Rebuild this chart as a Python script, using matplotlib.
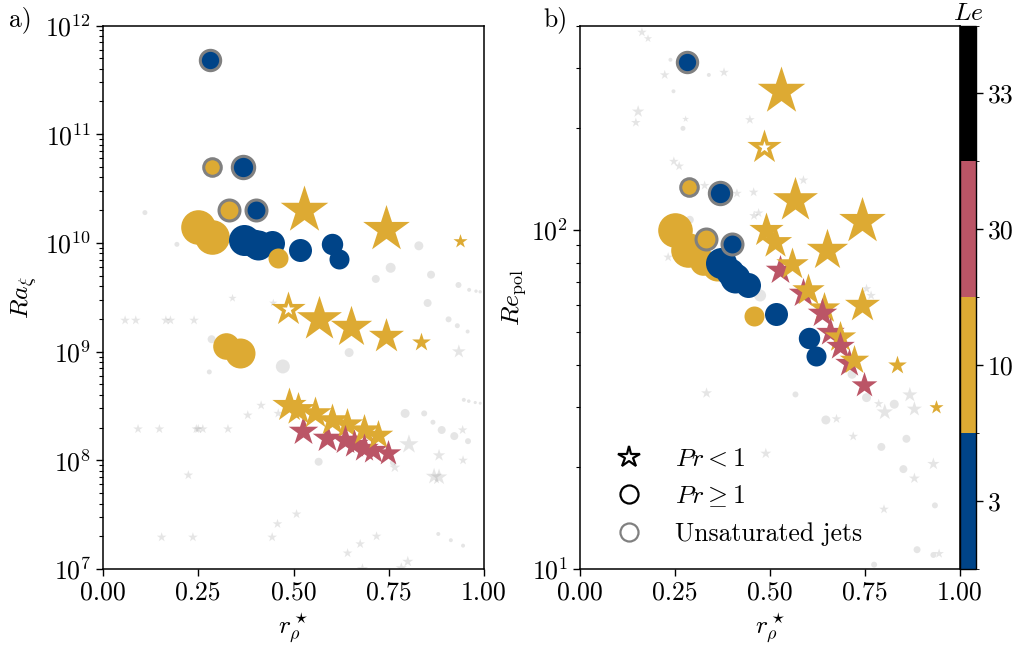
import numpy as np
import matplotlib
matplotlib.use('Agg')
import matplotlib.pyplot as plt
from matplotlib.colors import ListedColormap, BoundaryNorm
from matplotlib.cm import ScalarMappable
from matplotlib.lines import Line2D
from matplotlib.ticker import NullFormatter, LogLocator

plt.rcParams['font.family'] = ['cmr10', 'DejaVu Serif']
plt.rcParams['mathtext.fontset'] = 'cm'
plt.rcParams['axes.formatter.use_mathtext'] = True
plt.rcParams['font.size'] = 18.5
plt.rcParams['axes.unicode_minus'] = False

DPI = 100

# ---------------- data ----------------
le_levels = [3, 10, 30, 33]
le_colors = ['#004488', '#DDAA33', '#BB5566', '#000000']

# Pr >= 1 simulations (circles), in drawing order
circ_r = [0.250, 0.285, 0.324, 0.360, 0.371, 0.395, 0.408, 0.443, 0.459, 0.517, 0.602, 0.620,
          0.281, 0.287, 0.368, 0.331, 0.401]
circ_ra = [1.40e10, 1.14e10, 1.12e9, 9.8e8, 1.07e10, 1.0e10, 9.6e9, 9.9e9, 7.2e9, 8.6e9, 9.7e9, 7.1e9,
           4.8e11, 5.0e10, 5.0e10, 2.0e10, 2.0e10]
circ_re = [99.5, 87, 80.6, 78, 80, 75, 72, 68.7, 55.8, 56.4, 47.9, 42.4,
           313, 134, 128, 94, 90.6]
circ_le = [10, 10, 10, 10, 3, 3, 3, 3, 10, 3, 3, 3,
           3, 10, 3, 10, 3]
circ_unsat = [False] * 12 + [True] * 5
circ_size = [17.3, 17.3, 13.3, 15, 15.5, 14, 15, 12.5, 10, 11.5, 10.7, 10,
             11.7, 10.3, 12.7, 12, 12]

# Pr < 1 simulations (stars), in drawing order
star_r = [0.528, 0.743, 0.936, 0.485, 0.566, 0.651, 0.743, 0.834,
          0.526, 0.588, 0.489, 0.512, 0.557, 0.600, 0.641, 0.636, 0.658, 0.685, 0.684, 0.709, 0.722, 0.747]
star_ra = [2.0e10, 1.35e10, 1.04e10, 2.45e9, 2.0e9, 1.67e9, 1.39e9, 1.22e9,
           1.85e8, 1.6e8, 3.2e8, 2.95e8, 2.7e8, 2.35e8, 2.15e8, 1.55e8, 1.4e8, 1.9e8, 1.3e8, 1.25e8, 1.7e8, 1.17e8]
star_re = [257, 106, 30.1, 175, 122, 87.3, 60, 40,
           76, 65, 100, 92.3, 79, 66.6, 58.7, 56.7, 50, 48.4, 45.3, 40.5, 41.4, 34.9]
star_le = [10, 10, 10, 10, 10, 10, 10, 10,
           30, 30, 10, 10, 10, 10, 10, 30, 30, 10, 30, 30, 10, 30]
star_open = [False, False, False, True] + [False] * 18
star_size = [25, 24.5, 7.4, 18, 23.6, 21.7, 18.4, 9.8,
             15.5, 15.5, 18, 17.5, 17, 17, 16.5, 15.5, 15, 16.5, 15, 15, 15.5, 13.5]

# other simulations (grey background), panel a
ga_circ_r = [0.110, 0.194, 0.829, 0.755, 0.716, 0.861, 0.933, 0.961, 0.979, 0.990, 0.852, 0.907, 0.930,
             0.957, 0.285, 0.279, 0.472, 0.646, 0.947, 0.960, 0.977, 0.990, 0.793, 0.843, 0.866, 0.889,
             0.922, 0.958, 0.566, 0.880, 0.913, 0.945, 0.761]
ga_circ_ra = [1.9e10, 9.7e9, 9.4e9, 5.9e9, 4.66e9, 5.1e9, 4.1e9, 3.7e9, 3.6e9, 3.55e9, 2.8e9, 1.98e9, 1.73e9,
              1.53e9, 1.3e9, 6.5e8, 7.3e8, 9.8e8, 3.6e8, 3.5e8, 3.4e8, 3.35e8, 2.7e8, 2.7e8, 2.24e8, 1.9e8,
              1.67e8, 1.5e8, 9.7e7, 2.1e7, 1.84e7, 1.64e7, 9.5e7]
ga_circ_s = [2.5, 2.5, 4.5, 5, 4, 4, 3, 2, 1.7, 1.7, 4, 3, 2.5,
             2, 4, 2.5, 7, 4.5, 2, 1.8, 1.6, 1.5, 4.5, 3, 2.5, 4,
             4, 3, 4, 2, 2, 2, 3]
ga_star_r = [0.340, 0.058, 0.086, 0.165, 0.177, 0.239, 0.415, 0.380, 0.460, 0.447,
             0.092, 0.148, 0.245, 0.250, 0.262, 0.328, 0.224, 0.508, 0.458, 0.154, 0.236, 0.444,
             0.934, 0.944, 0.803, 0.882, 0.945, 0.869, 0.882, 0.766, 0.642, 0.675, 0.718, 0.800, 0.681, 0.783]
ga_star_ra = [3.1e9, 1.94e9, 1.94e9, 1.94e9, 1.94e9, 1.94e9, 3.2e8, 2.6e8, 2.7e8, 2.8e9,
              1.94e8, 1.94e8, 1.94e8, 1.94e8, 1.94e8, 1.94e8, 7.3e7, 3.2e7, 2.6e7, 1.96e7, 1.96e7, 1.96e7,
              1.0e9, 1.9e8, 1.4e8, 1.11e8, 1.0e8, 7.1e7, 7.0e7, 8.6e7, 1.4e7, 1.7e7, 2.0e7, 1.17e7, 1.0e7, 1.02e7]
ga_star_s = [3, 3.5, 3.5, 3.5, 3.5, 3.5, 3.5, 3.5, 3.5, 3,
             3.5, 3.5, 3.5, 3.5, 3.5, 3.5, 3.5, 3.5, 3.5, 3.5, 3.5, 3.5,
             5, 3.5, 7, 4.5, 3.5, 6, 6, 4, 3.5, 3.5, 3.5, 4, 4, 4]

# other simulations (grey background), panel b
gb_star_r = [0.163, 0.179, 0.223, 0.379, 0.153, 0.147, 0.278, 0.447, 0.247, 0.261, 0.328, 0.413, 0.457,
             0.470, 0.458, 0.232, 0.588, 0.754, 0.766, 0.333, 0.675, 0.719, 0.786, 0.802, 0.868, 0.880,
             0.930, 0.880, 0.489, 0.800, 0.945]
gb_star_re = [382, 366, 286, 291, 223, 207, 212, 211, 159, 154, 135, 128, 129,
              112, 110, 83, 140, 67, 64, 33, 27.7, 24.6, 30.7, 29, 32.6, 29.6,
              20.4, 18.5, 21.9, 15, 11.1]
gb_star_s = [3.5, 3, 3.5, 3.5, 4.5, 3.5, 2.5, 3.5, 3.5, 3.5, 3.5, 3.5, 3.5,
             3.5, 3.5, 3.5, 3.5, 3.5, 3.5, 4, 3.5, 3.5, 3.5, 6, 5.5, 5.5,
             4.5, 4, 4, 3.5, 3.5]
gb_circ_r = [0.238, 0.339, 0.246, 0.271, 0.289, 0.474, 0.567, 0.647, 0.716, 0.754, 0.827, 0.793,
             0.859, 0.851, 0.934, 0.887, 0.930, 0.774]
gb_circ_re = [317, 286, 256, 199, 107, 64, 32.7, 27.5, 37.5, 32, 30.6, 22.9,
              24.2, 19.7, 15.4, 11.4, 11, 10.3]
gb_circ_s = [2, 2, 2, 2.5, 4, 6, 3, 4.5, 4.5, 4.5, 4.5, 4,
             4, 4, 3, 3.5, 3, 3]

x_ticks = [0.0, 0.25, 0.5, 0.75, 1.0]
cb_ticklabels = [str(v) for v in le_levels]

# ---------------- plotting ----------------
def area(r_px):
    """marker radius in pixels -> scatter area in pt^2"""
    d_pt = 2 * r_px * 72.0 / DPI
    return d_pt ** 2

col_of = dict(zip(le_levels, le_colors))
GREY_EDGE = '#808080'
EW = 2.2  # grey edge width (pt)
GSTAR = 1.45  # visual scale of grey star markers

W, H = 1034, 651
fig = plt.figure(figsize=(W / DPI, H / DPI), dpi=DPI)
axA = fig.add_axes([103 / W, (H - 569) / H, 381 / W, 543.5 / H])
axB = fig.add_axes([580 / W, (H - 569) / H, 380 / W, 543.5 / H])
cax = fig.add_axes([960 / W, (H - 569) / H, 16 / W, 543.5 / H])


def draw_panel(ax, circ_y, star_y, g_cx, g_cy, g_cs, g_sx, g_sy, g_ss):
    ax.scatter(g_cx, g_cy, s=[area(r) for r in g_cs], marker='o', color='0.5', alpha=0.2,
               linewidths=0, zorder=1)
    ax.scatter(g_sx, g_sy, s=[area(r * GSTAR) for r in g_ss], marker='*', color='0.5', alpha=0.2,
               linewidths=0, zorder=1)
    # stars
    for x, y, le, op, sz in zip(star_r, star_y, star_le, star_open, star_size):
        ax.scatter([x], [y], s=area(sz), marker='*', color=col_of[le], linewidths=0, zorder=2)
        if op:
            ax.scatter([x], [y], s=area(sz * 0.36), marker='*', color='white', linewidths=0, zorder=2)
    # circles
    for x, y, le, un, sz in zip(circ_r, circ_y, circ_le, circ_unsat, circ_size):
        if un:
            rr = sz - EW * DPI / 72.0 / 2
            ax.scatter([x], [y], s=area(rr), marker='o', facecolor=col_of[le], edgecolor=GREY_EDGE,
                       linewidths=EW, zorder=3)
        else:
            ax.scatter([x], [y], s=area(sz), marker='o', color=col_of[le], linewidths=0, zorder=2.5)
    ax.set_yscale('log')
    ax.set_xlim(0, 1)
    ax.set_xticks(x_ticks)
    ax.xaxis.set_major_formatter(plt.FormatStrFormatter('%.2f'))
    ax.set_xlabel(r'$r_\rho^\star$')
    ax.tick_params(which='major', length=5, width=1)
    ax.tick_params(which='minor', length=3, width=0.8)
    ax.yaxis.set_minor_formatter(NullFormatter())
    for sp in ax.spines.values():
        sp.set_linewidth(1.1)


draw_panel(axA, circ_ra, star_ra, ga_circ_r, ga_circ_ra, ga_circ_s, ga_star_r, ga_star_ra, ga_star_s)
axA.set_ylim(1e7, 1e12)
axA.yaxis.set_major_locator(LogLocator(base=10, numticks=10))
axA.yaxis.set_minor_locator(LogLocator(base=10, subs=np.arange(2, 10), numticks=20))
axA.set_ylabel(r'$Ra_\xi$')

draw_panel(axB, circ_re, star_re, gb_circ_r, gb_circ_re, gb_circ_s, gb_star_r, gb_star_re, gb_star_s)
axB.set_ylim(10, 400)
axB.yaxis.set_major_locator(LogLocator(base=10, numticks=10))
axB.yaxis.set_minor_locator(LogLocator(base=10, subs=np.arange(2, 10), numticks=20))
axB.yaxis.set_minor_formatter(NullFormatter())
axB.set_ylabel(r'$Re_\mathrm{pol}$', labelpad=2)

handles = [
    Line2D([], [], ls='none', marker='*', ms=16, mfc='none', mec='k', mew=1.6),
    Line2D([], [], ls='none', marker='o', ms=13, mfc='none', mec='k', mew=1.6),
    Line2D([], [], ls='none', marker='o', ms=13, mfc='none', mec=GREY_EDGE, mew=1.6),
]
labels = [r'$Pr < 1$', r'$Pr \geq 1$', 'Unsaturated jets']
axB.legend(handles, labels, loc='lower left', frameon=False)

# colorbar
cmap = ListedColormap(le_colors)
norm = BoundaryNorm(np.arange(len(le_levels) + 1) - 0.5, len(le_levels))
sm = ScalarMappable(norm=norm, cmap=cmap)
cb = fig.colorbar(sm, cax=cax, ticks=np.arange(len(le_levels)))
cb.set_ticklabels(cb_ticklabels)
cb.outline.set_linewidth(1.0)
cax.tick_params(length=5, width=1)
cax.set_title(r'$Le$', pad=4, fontsize=18.5)

fig.text(20 / W, 1 - 20 / H, 'a)', ha='center', va='center')
fig.text(555 / W, 1 - 20 / H, 'b)', ha='center', va='center')

fig.savefig('out.png', dpi=DPI)
